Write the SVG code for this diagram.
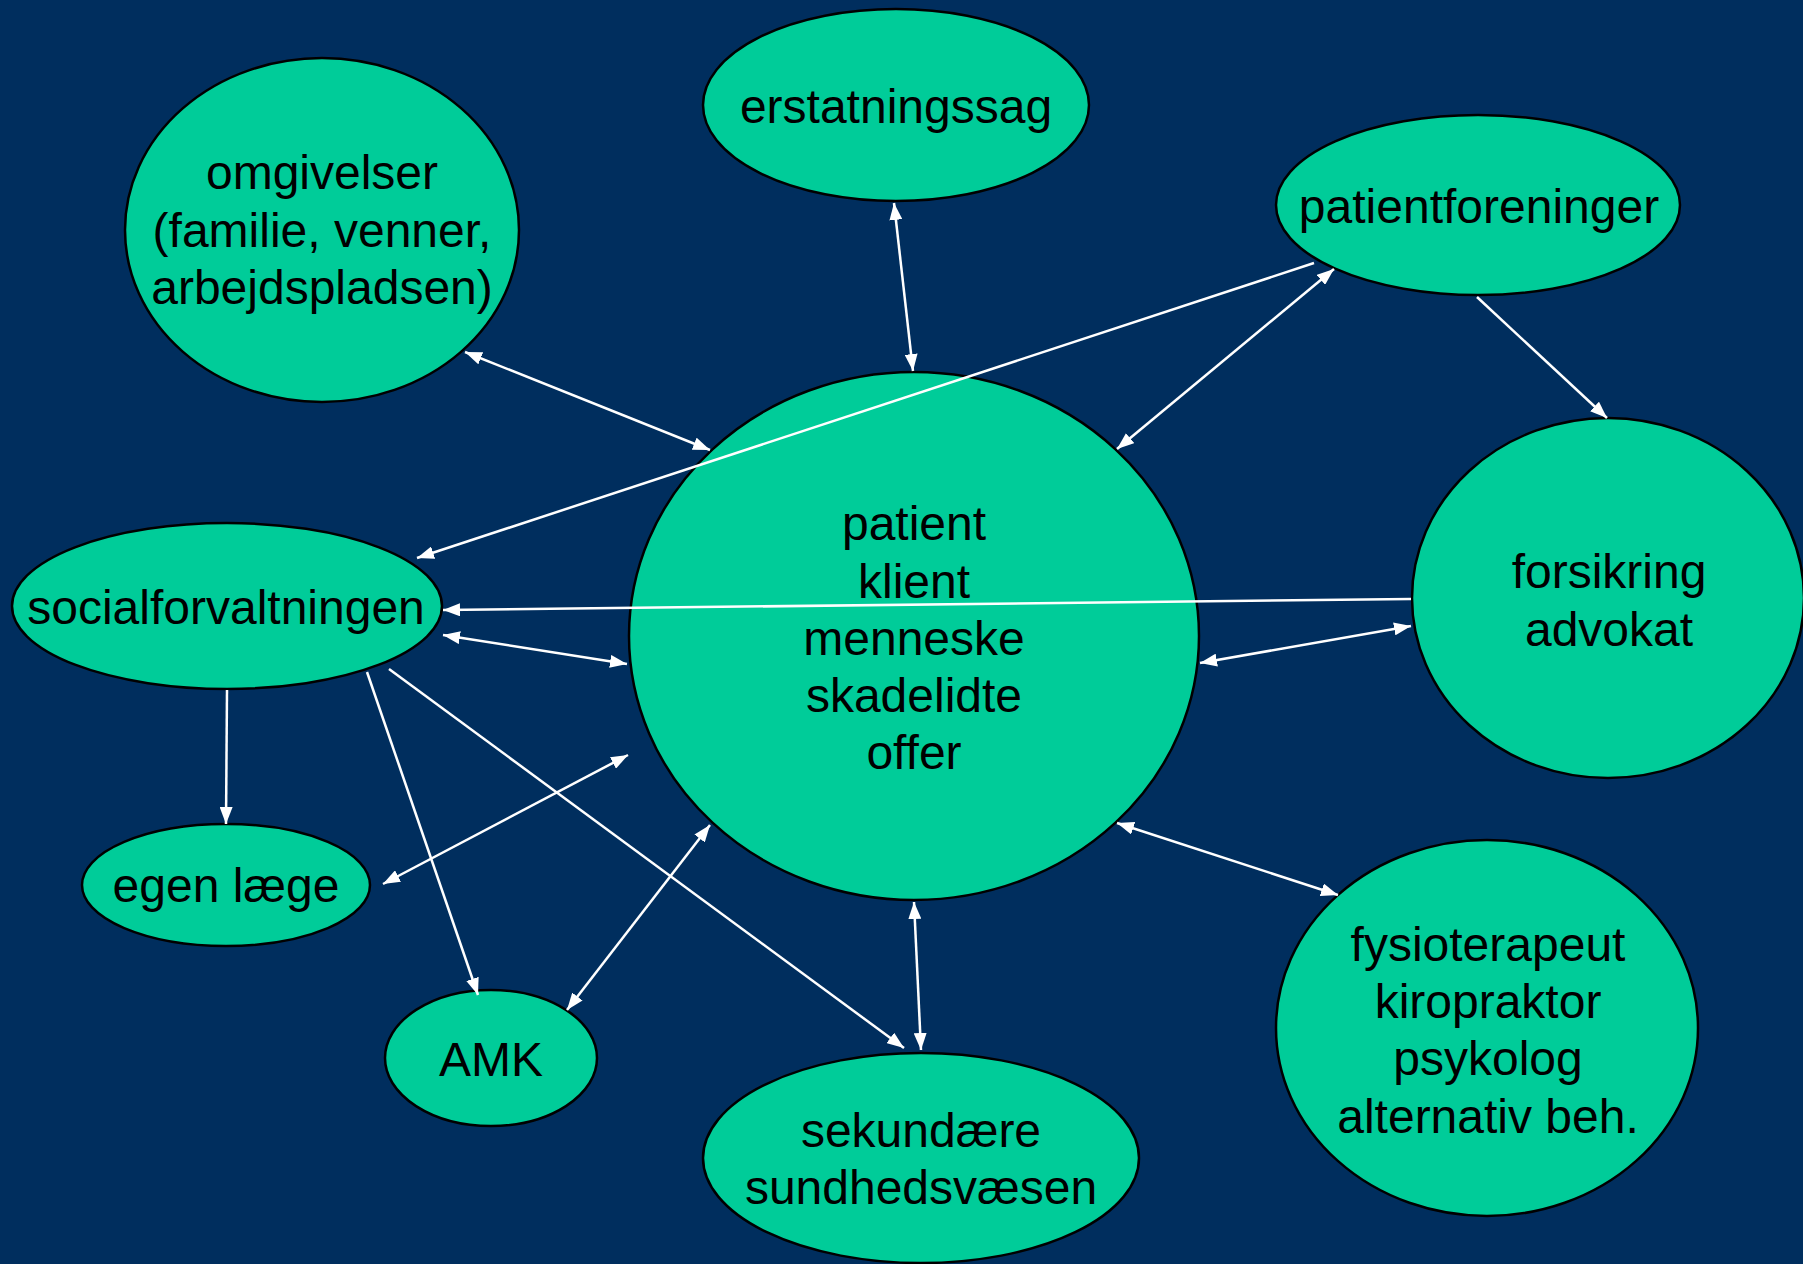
<svg xmlns="http://www.w3.org/2000/svg" width="1803" height="1264" viewBox="0 0 1803 1264">
<style>
.n{fill:#00CC99;stroke:#000;stroke-width:2.5}
.t{font-family:"Liberation Sans",Arial,sans-serif;font-size:48px;fill:#000;text-anchor:middle}
.c{stroke:#fff;stroke-width:2.5;fill:none}
.b{marker-start:url(#ah);marker-end:url(#ah)}
.e{marker-end:url(#ah)}
</style>
<defs>
<marker id="ah" viewBox="0 0 17 13" refX="17" refY="6.5" markerWidth="17" markerHeight="13" markerUnits="userSpaceOnUse" orient="auto-start-reverse">
<path d="M0,0 L17,6.5 L0,13 z" fill="#fff"/>
</marker>
</defs>
<rect width="1803" height="1264" fill="#002E5E"/>
<g id="omgivelser">
<ellipse class="n" cx="322" cy="230" rx="197" ry="172"/>
<text class="t" x="322" y="189">omgivelser</text>
<text class="t" x="322" y="247">(familie, venner,</text>
<text class="t" x="322" y="304">arbejdspladsen)</text>
</g>
<g id="erstatningssag">
<ellipse class="n" cx="896" cy="105" rx="193" ry="96"/>
<text class="t" x="896" y="123">erstatningssag</text>
</g>
<g id="patientforeninger">
<ellipse class="n" cx="1478" cy="205" rx="202" ry="90"/>
<text class="t" x="1479" y="223">patientforeninger</text>
</g>
<g id="socialforvaltningen">
<ellipse class="n" cx="227" cy="606" rx="215" ry="83"/>
<text class="t" x="226" y="624">socialforvaltningen</text>
</g>
<g id="patient">
<ellipse class="n" cx="914" cy="636" rx="285" ry="264"/>
<text class="t" x="914" y="540">patient</text>
<text class="t" x="914" y="598">klient</text>
<text class="t" x="914" y="655">menneske</text>
<text class="t" x="914" y="712">skadelidte</text>
<text class="t" x="914" y="769">offer</text>
</g>
<g id="forsikring">
<ellipse class="n" cx="1608" cy="598" rx="196" ry="180"/>
<text class="t" x="1609" y="588">forsikring</text>
<text class="t" x="1609" y="646">advokat</text>
</g>
<g id="egenlaege">
<ellipse class="n" cx="226" cy="885" rx="144" ry="61"/>
<text class="t" x="226" y="902">egen læge</text>
</g>
<g id="amk">
<ellipse class="n" cx="491" cy="1058" rx="106" ry="68"/>
<text class="t" x="491" y="1076">AMK</text>
</g>
<g id="sekundaere">
<ellipse class="n" cx="921" cy="1158" rx="218" ry="105"/>
<text class="t" x="921" y="1147">sekundære</text>
<text class="t" x="921" y="1204">sundhedsvæsen</text>
</g>
<g id="fysioterapeut">
<ellipse class="n" cx="1487" cy="1028" rx="211" ry="188"/>
<text class="t" x="1488" y="961">fysioterapeut</text>
<text class="t" x="1488" y="1018">kiropraktor</text>
<text class="t" x="1488" y="1075">psykolog</text>
<text class="t" x="1488" y="1133">alternativ beh.</text>
</g>
<g id="connectors">
<line class="c b" x1="465" y1="352" x2="710" y2="450"/>
<line class="c b" x1="894" y1="203" x2="913" y2="371"/>
<line class="c e" x1="1314" y1="263" x2="417" y2="558"/>
<line class="c b" x1="1334" y1="269" x2="1117" y2="449"/>
<line class="c e" x1="1477" y1="297" x2="1607" y2="418"/>
<line class="c e" x1="1411" y1="599" x2="443" y2="610"/>
<line class="c b" x1="443" y1="635" x2="627" y2="664"/>
<line class="c b" x1="1200" y1="663" x2="1411" y2="626"/>
<line class="c e" x1="227" y1="690" x2="226" y2="824"/>
<line class="c e" x1="367" y1="672" x2="478" y2="995"/>
<line class="c e" x1="389" y1="669" x2="904" y2="1048"/>
<line class="c b" x1="383" y1="884" x2="628" y2="755"/>
<line class="c b" x1="567" y1="1010" x2="710" y2="825"/>
<line class="c b" x1="914" y1="902" x2="921" y2="1050"/>
<line class="c b" x1="1117" y1="823" x2="1338" y2="895"/>
</g>
</svg>
